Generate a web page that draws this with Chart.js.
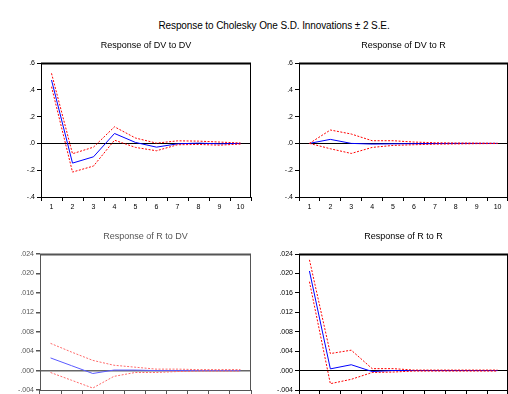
<!DOCTYPE html>
<html>
<head>
<meta charset="utf-8">
<script src="https://cdn.jsdelivr.net/npm/chart.js@4"></script>
<style>
  body { margin: 0; background: #fff; width: 508px; height: 394px; overflow: hidden; position: relative; }
  canvas { position: absolute; }
  #main-title {
    position: absolute; left: 74px; top: 20px; width: 400px; text-align: center;
    font: 10px "Liberation Sans", Arial, sans-serif; color: #000; letter-spacing: -0.1px;
  }
</style>
</head>
<body>
<div id="main-title">Response to Cholesky One S.D. Innovations ± 2 S.E.</div>
<canvas id="c-tl" width="255" height="200" style="left:0;top:30px"></canvas>
<canvas id="c-tr" width="253" height="200" style="left:255px;top:30px"></canvas>
<canvas id="c-bl" width="255" height="200" style="left:0;top:225px"></canvas>
<canvas id="c-br" width="253" height="200" style="left:255px;top:225px"></canvas>
<script>
const PERIODS = ["1", "2", "3", "4", "5", "6", "7", "8", "9", "10"];

// Response of DV to DV
const DV_DV = [0.473, -0.147, -0.100, 0.074, 0.007, -0.028, -0.003, 0.002, -0.003, 0.000];
const DV_DV_UP = [0.523, -0.077, -0.028, 0.124, 0.040, 0.002, 0.019, 0.017, 0.010, 0.003];
const DV_DV_LO = [0.423, -0.214, -0.169, 0.024, -0.030, -0.055, -0.010, -0.008, -0.013, -0.005];

// Response of DV to R
const DV_R = [0.000, 0.030, 0.000, -0.005, -0.003, -0.002, -0.001, 0.000, 0.000, 0.000];
const DV_R_UP = [0.000, 0.100, 0.070, 0.020, 0.020, 0.010, 0.005, 0.003, 0.002, 0.001];
const DV_R_LO = [0.000, -0.040, -0.075, -0.030, -0.015, -0.010, -0.006, -0.004, -0.002, -0.001];

// Response of R to DV
const R_DV = [0.0026, 0.0010, -0.0006, 0.0001, 0.0001, 0.0000, 0.0000, 0.0000, 0.0000, 0.0000];
const R_DV_UP = [0.0056, 0.0038, 0.0021, 0.0011, 0.0007, 0.0003, 0.0003, 0.0002, 0.0002, 0.0002];
const R_DV_LO = [-0.0004, -0.0020, -0.0036, -0.0012, -0.0004, -0.0004, -0.0002, -0.0001, -0.0001, -0.0001];

// Response of R to R
const R_R = [0.0205, 0.00035, 0.0012, -0.0002, 0.0000, 0.0000, 0.0000, 0.0000, 0.0000, 0.0000];
const R_R_UP = [0.0228, 0.0035, 0.0042, 0.0004, 0.0004, 0.0001, 0.0001, 0.0001, 0.0001, 0.0001];
const R_R_LO = [0.0183, -0.0027, -0.0018, -0.0004, -0.0003, -0.0001, -0.0001, -0.0001, -0.0001, -0.0001];

const FONT = "'Liberation Sans', Arial, sans-serif";

const framePlugin = {
  id: "frame",
  afterDraw(chart, args, opts) {
    const { ctx, chartArea: a } = chart;
    ctx.save();
    ctx.strokeStyle = opts.color;
    ctx.lineWidth = 1;
    ctx.strokeRect(a.left + 0.5, a.top + 0.5, a.right - a.left - 1, a.bottom - a.top);
    ctx.lineWidth = 2;
    ctx.beginPath();
    ctx.moveTo(a.left, a.top + 0.5);
    ctx.lineTo(a.right, a.top + 0.5);
    ctx.stroke();
    ctx.fillStyle = opts.textColor;
    ctx.font = "9px " + FONT;
    ctx.textAlign = "center";
    ctx.textBaseline = "middle";
    ctx.fillText(opts.title, (a.left + a.right) / 2, a.top - 17);
    ctx.restore();
  },
};

function makePanel(id, title, mid, up, lo, opt) {
  const blue = opt.fade ? "#5a5aff" : "#0000ff";
  const red = opt.fade ? "#ff6a6a" : "#ff0000";
  const ink = opt.fade ? "#555" : "#000";
  const redLine = (data) => ({
    data,
    borderColor: red,
    borderWidth: 1,
    borderDash: [2, 1.5],
    pointRadius: 0,
    fill: false,
  });
  return new Chart(document.getElementById(id), {
    type: "line",
    data: {
      labels: PERIODS,
      datasets: [
        redLine(up),
        redLine(lo),
        {
          data: mid,
          borderColor: blue,
          borderWidth: 1,
          pointRadius: 0,
          fill: false,
        },
      ],
    },
    options: {
      responsive: false,
      animation: false,
      layout: { padding: opt.padding },
      plugins: {
        legend: { display: false },
        tooltip: { enabled: false },
        frame: { title, color: ink, textColor: opt.fade ? "#555" : "#000" },
      },
      scales: {
        x: {
          type: "category",
          offset: true,
          afterFit: (s) => { s.height = 20; },
          border: { display: false },
          grid: { offset: true, drawOnChartArea: false, tickLength: 4, color: ink, tickColor: ink },
          ticks: { color: ink, font: { family: FONT, size: 7 }, padding: 2, maxRotation: 0, autoSkip: false },
        },
        y: {
          min: opt.min,
          max: opt.max,
          afterFit: (s) => { s.width = opt.yWidth; },
          border: { display: false },
          grid: {
            drawOnChartArea: true,
            tickLength: 4,
            tickColor: ink,
            lineWidth: opt.fade ? 1.5 : 1,
            color: (c) => (c.tick && Math.abs(c.tick.value) < 1e-9 ? (opt.fade ? "#666" : "#000") : "rgba(0,0,0,0)"),
          },
          ticks: {
            stepSize: opt.step,
            color: ink,
            font: { family: FONT, size: 7 },
            padding: 2,
            callback: (v) => v.toFixed(opt.dec).replace("0.", "."),
          },
        },
      },
    },
    plugins: [framePlugin],
  });
}

makePanel("c-tl", "Response of DV to DV", DV_DV, DV_DV_UP, DV_DV_LO, {
  min: -0.4, max: 0.6, step: 0.2, dec: 1, yWidth: 41,
  padding: { left: 0, right: 4, top: 33, bottom: 13 },
});
makePanel("c-tr", "Response of DV to R", DV_R, DV_R_UP, DV_R_LO, {
  min: -0.4, max: 0.6, step: 0.2, dec: 1, yWidth: 44,
  padding: { left: 0, right: 0, top: 33, bottom: 13 },
});
makePanel("c-bl", "Response of R to DV", R_DV, R_DV_UP, R_DV_LO, {
  min: -0.004, max: 0.024, step: 0.004, dec: 3, yWidth: 40, fade: true,
  padding: { left: 0, right: 4, top: 29, bottom: 15 },
});
makePanel("c-br", "Response of R to R", R_R, R_R_UP, R_R_LO, {
  min: -0.004, max: 0.024, step: 0.004, dec: 3, yWidth: 44,
  padding: { left: 0, right: 0, top: 29, bottom: 15 },
});
</script>
</body>
</html>
